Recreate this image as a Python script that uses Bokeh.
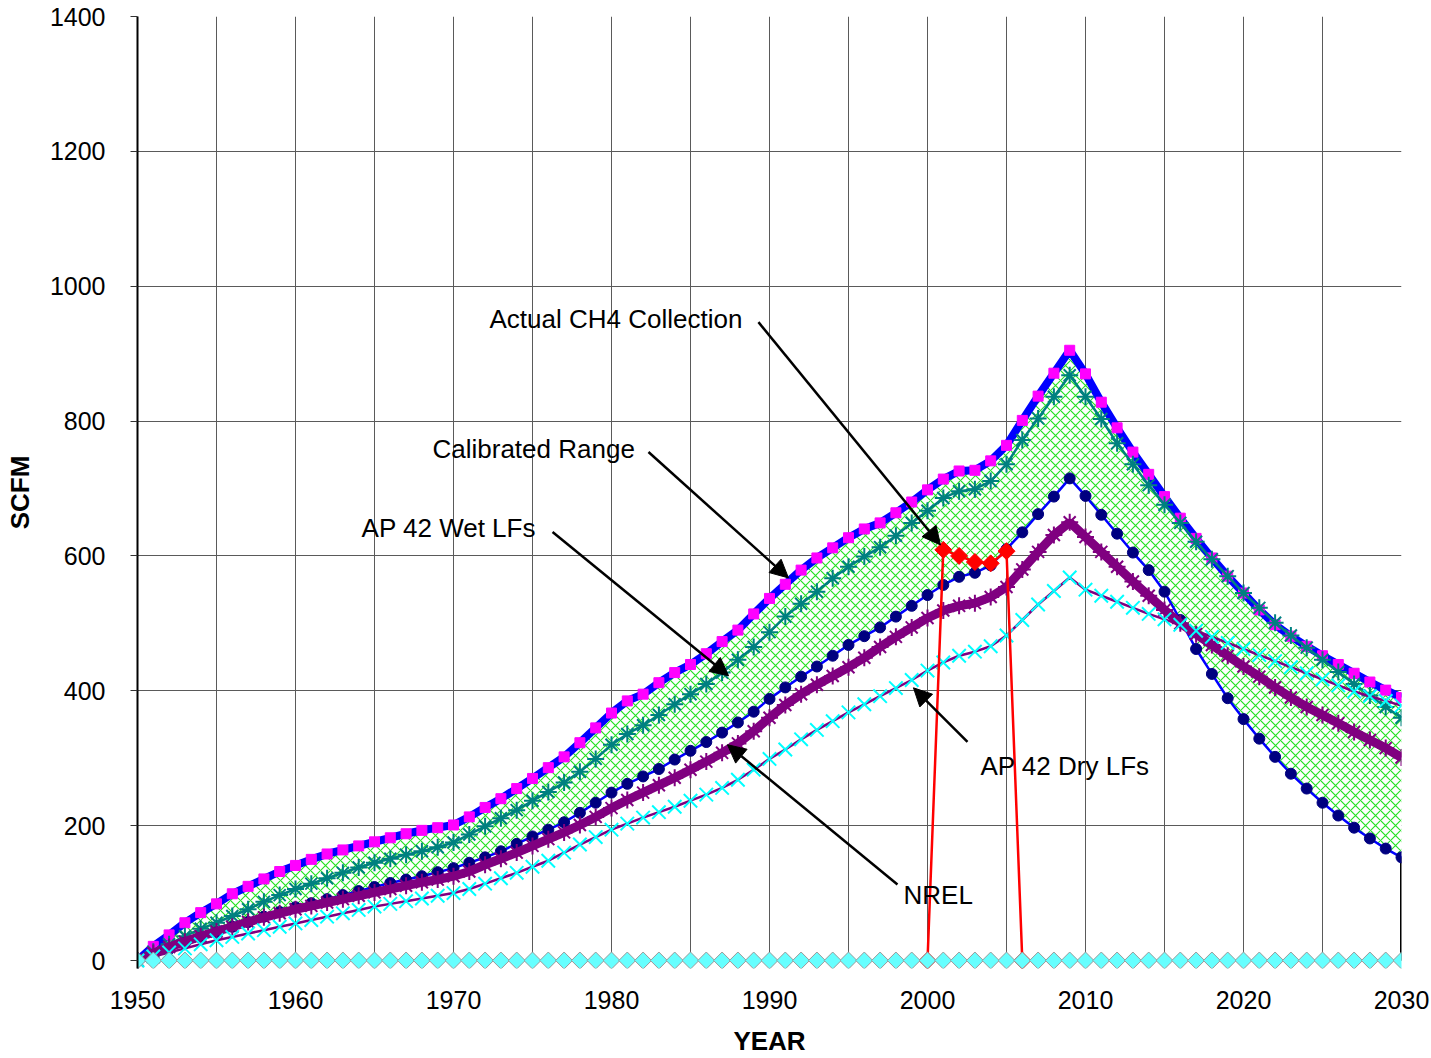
import numpy as np
from bokeh.plotting import figure
from bokeh.models import Range1d, FixedTicker, Label, Arrow, NormalHead
from bokeh.embed import file_html
from bokeh.resources import INLINE

# ---------------- data ----------------
years = list(range(1950, 2031))

calibrated_high = [
    0, 21, 38, 56, 71, 84, 99, 110, 121, 132,
    141, 150, 158, 164, 170, 176, 182, 188, 193, 197,
    201, 213, 227, 240, 255, 270, 286, 302, 323, 345,
    367, 385, 395, 412, 427, 439, 455, 473, 490, 514,
    537, 558, 579, 597, 612, 627, 640, 649, 664, 680,
    698, 714, 726, 727, 741, 764, 801, 837, 871, 905,
    870, 828, 790, 754, 721, 688, 656, 626, 597, 570,
    545, 520, 498, 481, 466, 452, 439, 426, 413, 401,
    390]

ap42_wet = [
    0, 13, 24, 36, 47, 56, 66, 76, 87, 97,
    106, 114, 122, 130, 138, 145, 151, 157, 162, 168,
    175, 187, 199, 211, 223, 237, 250, 264, 280, 299,
    320, 336, 349, 364, 380, 395, 410, 427, 446, 465,
    487, 510, 529, 547, 567, 584, 599, 613, 630, 649,
    667, 686, 696, 699, 711, 736, 772, 804, 836, 868,
    836, 803, 767, 736, 705, 676, 649, 621, 595, 570,
    545, 523, 501, 482, 464, 446, 428, 410, 393, 376,
    360]

calibrated_low = [
    0, 8, 17, 26, 34, 42, 50, 57, 65, 72,
    79, 85, 91, 97, 103, 109, 115, 120, 125, 131,
    137, 145, 153, 162, 173, 184, 194, 205, 219, 234,
    249, 262, 273, 284, 298, 311, 324, 338, 353, 369,
    388, 405, 421, 436, 452, 468, 481, 494, 510, 526,
    542, 557, 569, 575, 586, 610, 635, 662, 688, 715,
    689, 661, 633, 605, 579, 547, 505, 462, 425, 389,
    358, 329, 302, 277, 255, 234, 215, 197, 181, 166,
    153]

nrel = [
    0, 11, 20, 28, 36, 43, 50, 57, 64, 70,
    76, 81, 86, 91, 96, 101, 106, 111, 116, 120,
    125, 132, 142, 151, 160, 170, 180, 190, 201, 213,
    226, 238, 249, 260, 271, 283, 295, 308, 322, 340,
    360, 379, 395, 409, 422, 435, 449, 465, 480, 494,
    508, 519, 526, 530, 539, 554, 580, 606, 631, 650,
    628, 606, 584, 562, 541, 520, 500, 484, 468, 452,
    436, 421, 405, 390, 376, 364, 352, 339, 327, 315,
    301]

ap42_dry = [
    0, 6, 12, 18, 24, 30, 35, 40, 45, 50,
    55, 60, 65, 70, 75, 80, 84, 88, 92, 96,
    100, 106, 114, 122, 130, 139, 148, 160, 172, 183,
    194, 203, 212, 220, 228, 237, 246, 256, 268, 283,
    299, 313, 328, 342, 355, 368, 380, 392, 404, 416,
    430, 442, 452, 458, 466, 482, 505, 528, 548, 568,
    550, 541, 532, 523, 514, 506, 498, 489, 480, 471,
    462, 453, 444, 435, 426, 417, 408, 399, 392, 385,
    378]

actual_years = [2000, 2001, 2002, 2003, 2004, 2005, 2006]
actual_ch4 = [0, 609, 600, 591, 589, 607, 0]

zero_series = [
    0, 0, 0, 0, 0, 0, 0, 0, 0, 0,
    0, 0, 0, 0, 0, 0, 0, 0, 0, 0,
    0, 0, 0, 0, 0, 0, 0, 0, 0, 0,
    0, 0, 0, 0, 0, 0, 0, 0, 0, 0,
    0, 0, 0, 0, 0, 0, 0, 0, 0, 0,
    0, 0, 0, 0, 0, 0, 0, 0, 0, 0,
    0, 0, 0, 0, 0, 0, 0, 0, 0, 0,
    0, 0, 0, 0, 0, 0, 0, 0, 0, 0,
    0]

x_ticks = [1950, 1960, 1970, 1980, 1990, 2000, 2010, 2020, 2030]
x_minor_ticks = [1955, 1965, 1975, 1985, 1995, 2005, 2015, 2025]
y_ticks = [0, 200, 400, 600, 800, 1000, 1200, 1400]

# annotation texts and their placement (data units)
ann_text = ["Actual CH4 Collection", "Calibrated Range", "AP 42 Wet LFs",
            "AP 42 Dry LFs", "NREL"]
ann_x = [1972.28, 1968.67, 1964.18, 2003.35, 1998.48]
ann_y = [951, 758.5, 641.5, 288.9, 97.8]
arrow_x0 = [1989.30, 1982.34, 1976.27, 2002.53, 1998.10]
arrow_y0 = [946.7, 754.1, 635.6, 324.4, 112.6]
arrow_x1 = [2000.82, 1991.20, 1987.41, 1999.11, 1987.34]
arrow_y1 = [616.3, 567.4, 422.2, 404.4, 320.0]

FONT = "Liberation Sans"

# ---------------- figure ----------------
p = figure(width=1431, height=1058, output_backend="svg", toolbar_location=None,
           x_range=Range1d(1950, 2030), y_range=Range1d(-11.85, 1400),
           min_border_left=137, min_border_right=30, min_border_top=16,
           min_border_bottom=89)
p.background_fill_color = "white"
p.border_fill_color = "white"
p.outline_line_color = None

p.xaxis.ticker = FixedTicker(ticks=x_ticks, minor_ticks=x_minor_ticks)
p.yaxis.ticker = FixedTicker(ticks=y_ticks)

for g in (p.xgrid, p.ygrid):
    g.grid_line_color = "#5a5a5a"
    g.grid_line_width = 1
p.xgrid.minor_grid_line_color = "#5a5a5a"
p.xgrid.minor_grid_line_width = 1

xa = p.xaxis[0]
xa.axis_line_color = None
xa.major_tick_out = 0
xa.major_tick_in = 0
xa.minor_tick_out = 0
xa.minor_tick_in = 0
xa.major_label_standoff = 22
xa.major_label_text_font = FONT
xa.major_label_text_font_size = "25px"
xa.major_label_text_color = "black"
xa.axis_label = "YEAR"
xa.axis_label_text_font = FONT
xa.axis_label_text_font_style = "bold"
xa.axis_label_text_font_size = "26px"
xa.axis_label_text_color = "black"
xa.axis_label_standoff = 14

ya = p.yaxis[0]
ya.axis_line_color = "black"
ya.axis_line_width = 2
ya.major_tick_out = 7
ya.major_tick_in = 0
ya.minor_tick_out = 0
ya.minor_tick_in = 0
ya.major_tick_line_color = "#333333"
ya.major_label_standoff = 25
ya.major_label_text_font = FONT
ya.major_label_text_font_size = "25px"
ya.major_label_text_color = "black"
ya.axis_label = "SCFM"
ya.axis_label_text_font = FONT
ya.axis_label_text_font_style = "bold"
ya.axis_label_text_font_size = "26px"
ya.axis_label_text_color = "black"
ya.axis_label_standoff = 12

# hatched calibrated range
p.varea(x=years, y1=calibrated_low, y2=calibrated_high, fill_color="white",
        hatch_pattern="diagonal_cross", hatch_color="#22e022",
        hatch_scale=10, hatch_weight=1.1)

# upper bound of calibrated range
p.line(years, calibrated_high, line_color="#0000FF", line_width=8)
p.scatter(years, calibrated_high, marker="square", size=10,
          fill_color="#FF00FF", line_color="#FF00FF")

# AP 42 Wet LFs
p.line(years, ap42_wet, line_color="#008080", line_width=2.5)
p.scatter(years, ap42_wet, marker="asterisk", size=17,
          line_color="#008080", line_width=2)

# border of the lower area at the last year
p.segment(x0=[years[-1]], y0=[zero_series[-1]], x1=[years[-1]],
          y1=[calibrated_low[-1]], line_color="black", line_width=3)

# lower bound of calibrated range
p.line(years, calibrated_low, line_color="#0000FF", line_width=2.5)
p.scatter(years, calibrated_low, marker="circle", size=11,
          fill_color="#000080", line_color="#000080")

# NREL
p.line(years, nrel, line_color="#800080", line_width=9)
p.scatter(years, nrel, marker="asterisk", size=17,
          line_color="#800080", line_width=2)

# AP 42 Dry LFs
p.line(years, ap42_dry, line_color="#800080", line_width=2.5)
p.scatter(years, ap42_dry, marker="x", size=19,
          line_color="#00FFFF", line_width=2)

# Actual CH4 collection
p.line(actual_years, actual_ch4, line_color="#FF0000", line_width=2.5)
p.scatter(actual_years, actual_ch4, marker="square", angle=np.pi / 4, size=12,
          fill_color="#FF0000", line_color="#FF0000")

# zero series of diamonds
p.scatter(years, zero_series, marker="square", angle=np.pi / 4, size=12,
          fill_color="#66FFFF", line_color="#999999", line_width=1)

# annotations
for t, x, y, x0, y0, x1, y1 in zip(ann_text, ann_x, ann_y,
                                   arrow_x0, arrow_y0, arrow_x1, arrow_y1):
    p.add_layout(Label(x=x, y=y, text=t, text_font=FONT,
                       text_font_size="26px", text_color="black",
                       text_baseline="middle", text_align="left"))
    p.add_layout(Arrow(end=NormalHead(size=18, fill_color="black",
                                      line_color="black", line_width=1),
                       x_start=x0, y_start=y0, x_end=x1, y_end=y1,
                       line_color="black", line_width=2.5))

open("out.html", "w").write(file_html(p, INLINE))
